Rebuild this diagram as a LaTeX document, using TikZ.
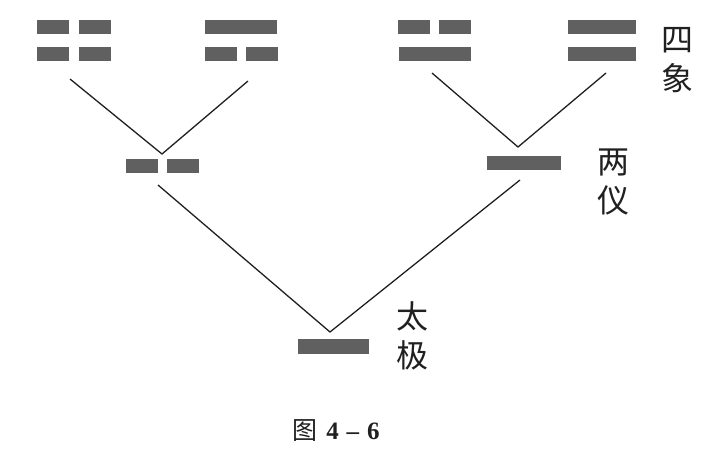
\documentclass[tikz,border=0pt]{standalone}
\usepackage{fontspec}
\setmainfont{Liberation Serif}
\newfontfamily\cjk{Noto Sans CJK SC}
\definecolor{barc}{HTML}{606060}
\definecolor{inkc}{HTML}{202020}
\begin{document}
\begin{tikzpicture}[x=1pt,y=-1pt,
  bar/.style={fill=barc, draw=none, inner sep=0pt, minimum height=14pt, anchor=north west},
  yin/.style={bar, minimum width=31.5pt},
  conn/.style={draw=inkc, line width=1.3pt},
  lab/.style={text=inkc, font=\cjk\fontsize{32}{33}\selectfont, inner sep=0pt, align=center}]
\useasboundingbox[fill=white] (0,0) rectangle (708,456);
% four images
\node[yin] (a11) at (37,20) {};
\node[yin] (a12) at (79,20) {};
\node[yin] (a21) at (37,47) {};
\node[yin] (a22) at (79,47) {};
\node[bar, minimum width=72pt] (b1) at (205,20) {};
\node[yin] (b21) at (205,47) {};
\node[yin] (b22) at (246,47) {};
\node[yin] (c11) at (398,20) {};
\node[yin] (c12) at (439,20) {};
\node[bar, minimum width=72pt] (c2) at (399,47) {};
\node[bar, minimum width=68pt] (d1) at (568,20) {};
\node[bar, minimum width=68pt] (d2) at (568,47) {};
% two forms
\node[yin] (e1) at (126,159) {};
\node[yin] (e2) at (167,159) {};
\node[bar, minimum width=74pt] (f) at (487,156) {};
% taiji
\node[bar, minimum width=71pt, minimum height=15pt] (g) at (298,339) {};
% connectors
\coordinate (la1) at (70,79);
\coordinate (lap) at (162,154);
\coordinate (la2) at (248,81);
\coordinate (ra1) at (432,73);
\coordinate (rap) at (518,147);
\coordinate (ra2) at (606,73);
\coordinate (ba1) at (158,185);
\coordinate (bap) at (330,332);
\coordinate (ba2) at (520,180);
\draw[conn] (la1) -- (lap) -- (la2);
\draw[conn] (ra1) -- (rap) -- (ra2);
\draw[conn] (ba1) -- (bap) -- (ba2);
% labels
\node[lab] (sx) at (677,60) {四\\[6pt]象};
\node[lab] (ly) at (613,182) {两\\[6pt]仪};
\node[lab] (tj) at (412,336) {太\\[6pt]极};
\node[text=inkc, inner sep=0pt] (cap) at (336,431) {{\cjk\fontsize{25}{26}\selectfont 图}\hspace{9pt}{\fontsize{25}{26}\selectfont\bfseries 4\hspace{8pt}--\hspace{8pt}6}};
\end{tikzpicture}
\end{document}
